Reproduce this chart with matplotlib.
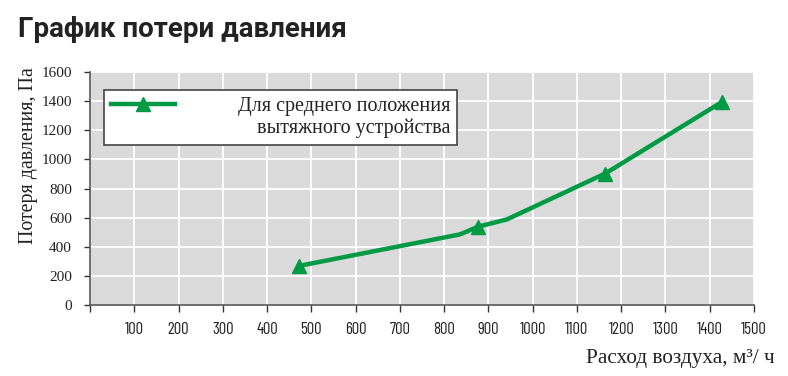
import matplotlib
matplotlib.use("Agg")
import matplotlib.pyplot as plt
from matplotlib.ticker import FixedLocator

# Data
flow = [473, 836, 877, 942, 1164, 1428]
pressure = [269, 485, 538, 588, 903, 1395]
marker_idx = [0, 2, 4, 5]
series_label = "Для среднего положения\nвытяжного устройства"
x_ticks = list(range(0, 1501, 100))
x_tick_labels = [""] + [str(v) for v in x_ticks[1:]]
y_ticks = list(range(0, 1601, 200))

W, H = 788, 376
fig = plt.figure(figsize=(W / 100, H / 100), dpi=100)
ax = fig.add_axes([90 / W, (H - 305) / H, (754 - 90) / W, (305 - 72) / H])

green = "#009a44"
serif = ["Liberation Serif", "DejaVu Serif"]
ax.set_facecolor("#d9dad9")
ax.plot(flow, pressure, color=green, lw=3.2, marker="^", markersize=10,
        markevery=marker_idx, label=series_label, solid_joinstyle="round")

ax.set_xlim(0, 1500)
ax.set_ylim(0, 1600)
ax.xaxis.set_major_locator(FixedLocator(x_ticks))
ax.set_xticklabels(x_tick_labels)
ax.yaxis.set_major_locator(FixedLocator(y_ticks))
ax.grid(True, color="white", lw=1.3)
ax.set_axisbelow(True)

for s in ["top", "right"]:
    ax.spines[s].set_visible(False)
for s in ["left", "bottom"]:
    ax.spines[s].set_color("#555555")
    ax.spines[s].set_linewidth(1.2)

ax.tick_params(axis="x", direction="out", length=5, width=1, color="#333333",
               pad=7, labelsize=12, labelcolor="#222222",
               labelfontfamily="Barlow Condensed")
ax.tick_params(axis="y", direction="out", length=4, width=1, color="#333333",
               pad=9, labelsize=11, labelcolor="#222222",
               labelfontfamily="Liberation Serif")

fig.text(28 / W, (H - 156) / H, "Потеря давления, Па", family=serif,
         fontsize=14.3, color="#222222", rotation=90, ha="center", va="center")
fig.text(775 / W, (H - 363) / H, "Расход воздуха, м³/ ч",
         family=serif, fontsize=15.3, color="#222222", ha="right", va="baseline")

fig.text(18 / W, (H - 37) / H, "График потери давления", family=["Roboto", "DejaVu Sans"],
         fontweight="bold", fontsize=20, color="#222222", ha="left", va="baseline")

leg = ax.legend(loc="upper left", bbox_to_anchor=(14 / 664, (305 - 90) / 233),
                borderaxespad=0,
                frameon=True, fancybox=False, edgecolor="#444444", framealpha=1,
                handlelength=3.2, handletextpad=3.1, borderpad=0.35,
                prop={"family": serif, "size": 14.5})
leg.get_frame().set_linewidth(1.2)
for t in leg.get_texts():
    t.set_multialignment("right")
    t.set_color("#222222")
try:
    for col in leg._legend_handle_box.get_children():
        for hp in col.get_children():
            hp.align = "top"
except Exception:
    pass

fig.savefig("out.png", dpi=100)
